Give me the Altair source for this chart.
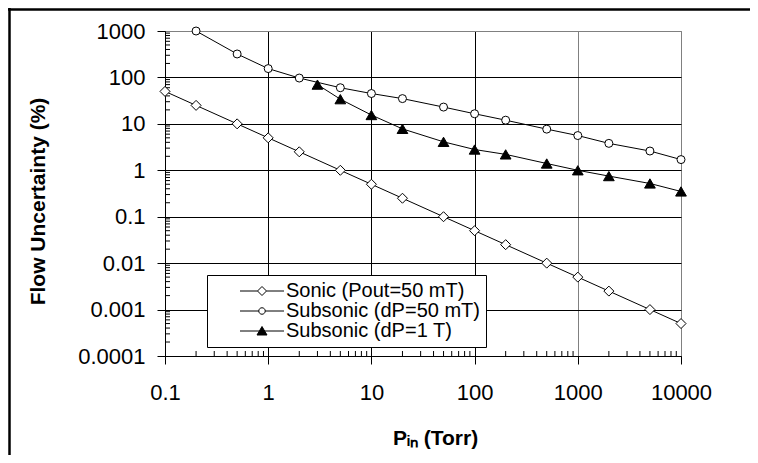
import altair as alt
import pandas as pd

# ---------------- data ----------------
series_names = ["Sonic (Pout=50 mT)", "Subsonic (dP=50 mT)", "Subsonic (dP=1 T)"]

sonic_x = [0.1, 0.2, 0.5, 1, 2, 5, 10, 20, 50, 100, 200, 500, 1000, 2000, 5000, 10000]
sonic_y = [50, 25, 10, 5, 2.5, 1, 0.5, 0.25, 0.1, 0.05, 0.025, 0.01, 0.005, 0.0025, 0.001, 0.0005]

sub50_x = [0.2, 0.5, 1, 2, 5, 10, 20, 50, 100, 200, 500, 1000, 2000, 5000, 10000]
sub50_y = [1000, 320, 155, 97, 60, 45, 35, 23, 16.5, 12, 7.7, 5.6, 3.8, 2.6, 1.7]

sub1t_x = [3, 5, 10, 20, 50, 100, 200, 500, 1000, 2000, 5000, 10000]
sub1t_y = [70, 34, 15.5, 7.8, 4.1, 2.8, 2.2, 1.4, 1.0, 0.75, 0.52, 0.35]

x_ticks = [0.1, 1, 10, 100, 1000, 10000]
y_ticks = [0.0001, 0.001, 0.01, 0.1, 1, 10, 100, 1000]
x_minor = [m * 10.0 ** k for k in range(-1, 4) for m in range(2, 10)]
y_minor = [m * 10.0 ** k for k in range(-4, 3) for m in range(2, 10)]

rows = []
for name, xs, ys in zip(series_names, [sonic_x, sub50_x, sub1t_x], [sonic_y, sub50_y, sub1t_y]):
    for a, b in zip(xs, ys):
        rows.append({"P": a, "U": b, "series": name})
df = pd.DataFrame(rows)

FONT = "Liberation Sans"
W, H = 516, 325
PAD = {"left": 157, "top": 23, "right": 69, "bottom": 99}

xscale = alt.Scale(type="log", domain=[0.1, 10000])
yscale = alt.Scale(type="log", domain=[0.0001, 1000])

x_axis = alt.Axis(
    values=x_ticks, format="~g", grid=True,
    gridColor=alt.condition("datum.value >= 1000", alt.value("#808080"), alt.value("black")),
    gridWidth=1, tickSize=8, tickColor="black", domainColor="black",
    labelFont=FONT, labelFontSize=22, labelColor="black", labelPadding=18,
    labelFlush=False, labelOverlap=False,
    title="Pᵢₙ (Torr)", titleFont=FONT, titleFontSize=21, titleFontWeight="bold",
    titleColor="black", titleX=270, titleY=82, titleBaseline="middle", titleAlign="center",
)
y_axis = alt.Axis(
    values=y_ticks, format="~g", grid=True,
    gridColor=alt.condition("datum.value >= 1000", alt.value("#808080"), alt.value("black")),
    gridWidth=1, tickSize=8, tickColor="black", domainColor="black",
    labelFont=FONT, labelFontSize=22, labelColor="black", labelPadding=12,
    labelFlush=False, labelOverlap=False,
    title="Flow Uncertainty (%)", titleFont=FONT, titleFontSize=21, titleFontWeight="bold",
    titleColor="black", titleX=-127, titleY=170, titleAngle=270,
    titleAlign="center", titleBaseline="middle",
)

X = alt.X("P:Q", scale=xscale, axis=x_axis)
Y = alt.Y("U:Q", scale=yscale, axis=y_axis)

lines = alt.Chart(df).mark_line(color="black", strokeWidth=1).encode(
    x=X, y=Y, detail="series:N", order="P:Q"
)

marker_shapes = ["diamond", "circle", "triangle-up"]
marker_fills = ["white", "white", "black"]
marker_sizes = [100, 64, 115]

point_layers = []
for name, shp, fc, sz in zip(series_names, marker_shapes, marker_fills, marker_sizes):
    point_layers.append(
        alt.Chart(df).transform_filter(alt.datum.series == name)
        .mark_point(shape=shp, filled=True, fill=fc, stroke="black", strokeWidth=1,
                    size=sz, opacity=1)
        .encode(x=X, y=Y)
    )

legend_paths = [
    "M-4.4,0H-0.9M0.9,0H4.4M0,-0.9L0.9,0L0,0.9L-0.9,0Z",
    "M-4.4,0H-0.65M0.65,0H4.4M0.65,0A0.65,0.65,0,1,1,-0.65,0A0.65,0.65,0,1,1,0.65,0Z",
    "M-4.4,0H4.4M0,-0.9L1,0.8L-1,0.8Z",
]
legend_kw = dict(
    title=None, orient="none", legendX=42, legendY=244, padding=6,
    strokeColor="black", fillColor="white", cornerRadius=0,
    labelFont=FONT, labelFontSize=20, labelColor="black", labelLimit=400,
    symbolSize=100, symbolStrokeColor="black", symbolStrokeWidth=1, symbolOpacity=1,
    rowPadding=-3, symbolOffset=39, labelOffset=14,
)
legend_layer = alt.Chart(df).mark_point(opacity=0, filled=False, stroke="black", strokeWidth=1).encode(
    x=X, y=Y,
    shape=alt.Shape("series:N", scale=alt.Scale(domain=series_names, range=legend_paths),
                    legend=alt.Legend(**legend_kw)),
    fill=alt.Fill("series:N", scale=alt.Scale(domain=series_names, range=marker_fills),
                  legend=alt.Legend(**legend_kw)),
    stroke=alt.Stroke("series:N", scale=alt.Scale(domain=series_names, range=["black", "black", "black"]),
                      legend=alt.Legend(**legend_kw)),
)

xminor_layer = alt.Chart(pd.DataFrame({"P": x_minor})).mark_rule(color="black", strokeWidth=1).encode(
    x=X, y=alt.value(H), y2=alt.value(H - 5)
)
yminor_layer = alt.Chart(pd.DataFrame({"U": y_minor})).mark_rule(color="black", strokeWidth=1).encode(
    y=Y, x=alt.value(0), x2=alt.value(5)
)

frame_df = pd.DataFrame({"k": [0]})
frame_top = alt.Chart(frame_df).mark_rule(color="black", strokeWidth=2.5).encode(
    x=alt.value(-PAD["left"]), x2=alt.value(W + PAD["right"]), y=alt.value(-PAD["top"] + 1.5)
)
frame_left = alt.Chart(frame_df).mark_rule(color="black", strokeWidth=2.5).encode(
    x=alt.value(-PAD["left"] + 1.5), y=alt.value(-PAD["top"]), y2=alt.value(H + PAD["bottom"])
)

chart = alt.layer(
    xminor_layer, yminor_layer, lines, *point_layers, legend_layer, frame_top, frame_left
).properties(
    width=W, height=H, padding=PAD, autosize="none", background="white"
).configure_view(
    stroke="#808080", strokeWidth=1
)

chart.save("out.html", embed_options={"renderer": "svg", "actions": False})
